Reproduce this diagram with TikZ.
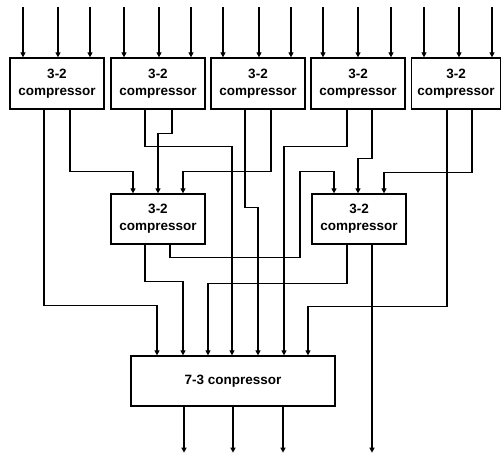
\documentclass[tikz,border=0pt]{standalone}
\usepackage{fontspec}
\setmainfont{Liberation Sans}
\usetikzlibrary{arrows.meta}
\begin{document}
\begin{tikzpicture}[x=1pt,y=-1pt,
  box/.style={draw,line width=1.3pt,inner sep=0pt,minimum height=51pt,minimum width=94pt,
    align=center,font=\fontsize{13.5}{17}\selectfont\bfseries},
  arr/.style={line width=1.3pt,-{Triangle[length=5pt,width=5pt]}}]
\useasboundingbox (0,0) rectangle (502,456);
\node[box] (b1) at (57,83.5) {3-2\\compressor};
\node[box] (b2) at (158,83.5) {3-2\\compressor};
\node[box] (b3) at (258,83.5) {3-2\\compressor};
\node[box] (b4) at (358,83.5) {3-2\\compressor};
\node[box,minimum width=89pt] (b5) at (456,83.5) {3-2\\compressor};
\node[box,minimum height=50pt] (m1) at (158,219) {3-2\\compressor};
\node[box,minimum height=50pt] (m2) at (359,219) {3-2\\compressor};
\node[box,minimum width=204pt,minimum height=50pt] (c7) at (233,381) {7-3 conpressor};
% inputs
\foreach \b/\s in {b1/-34,b1/1,b1/33,b2/-34,b2/1,b2/33,b3/-35,b3/1,b3/33,b4/-35,b4/0,b4/33,b5/-32,b5/3,b5/36}
  \draw[arr] ([xshift=\s pt,yshift=50pt]\b.north) -- ([xshift=\s pt]\b.north);
% top row to middle row
\draw[arr] ([xshift=13pt]b1.south) -- ++(0,62) -| ([xshift=-25pt]m1.north);
\draw[arr] ([xshift=14pt]b2.south) -- ++(0,24) -| (m1.north);
\draw[arr] ([xshift=13pt]b3.south) -- ++(0,62) -| ([xshift=25pt]m1.north);
\draw[arr] ([xshift=14pt]b4.south) -- ++(0,49) -| ([xshift=-1pt]m2.north);
\draw[arr] ([xshift=16pt]b5.south) -- ++(0,63) -| ([xshift=25pt]m2.north);
\draw[arr] ([xshift=12pt]m1.south) -- ++(0,13) -- ++(130,0) -- ++(0,-86) -| ([xshift=-25pt]m2.north);
% to 7-3
\draw[arr] ([xshift=-13pt]b1.south) -- ++(0,196) -| ([xshift=-76pt]c7.north);
\draw[arr] ([xshift=-13pt]m1.south) -- ++(0,37) -| ([xshift=-50pt]c7.north);
\draw[arr] ([xshift=-12pt]m2.south) -- ++(0,39) -| ([xshift=-25pt]c7.north);
\draw[arr] ([xshift=-13pt]b2.south) -- ++(0,37) -| ([xshift=-1pt]c7.north);
\draw[arr] ([xshift=-13pt]b3.south) -- ++(0,98) -| ([xshift=25pt]c7.north);
\draw[arr] ([xshift=-11pt]b4.south) -- ++(0,37) -| ([xshift=51pt]c7.north);
\draw[arr] ([xshift=-9pt]b5.south) -- ++(0,197) -| ([xshift=75pt]c7.north);
% outputs
\draw[arr] ([xshift=13pt]m2.south) -- ++(0,208);
\foreach \s in {-49,0,50}
  \draw[arr] ([xshift=\s pt]c7.south) -- ++(0,46);
\end{tikzpicture}
\end{document}
